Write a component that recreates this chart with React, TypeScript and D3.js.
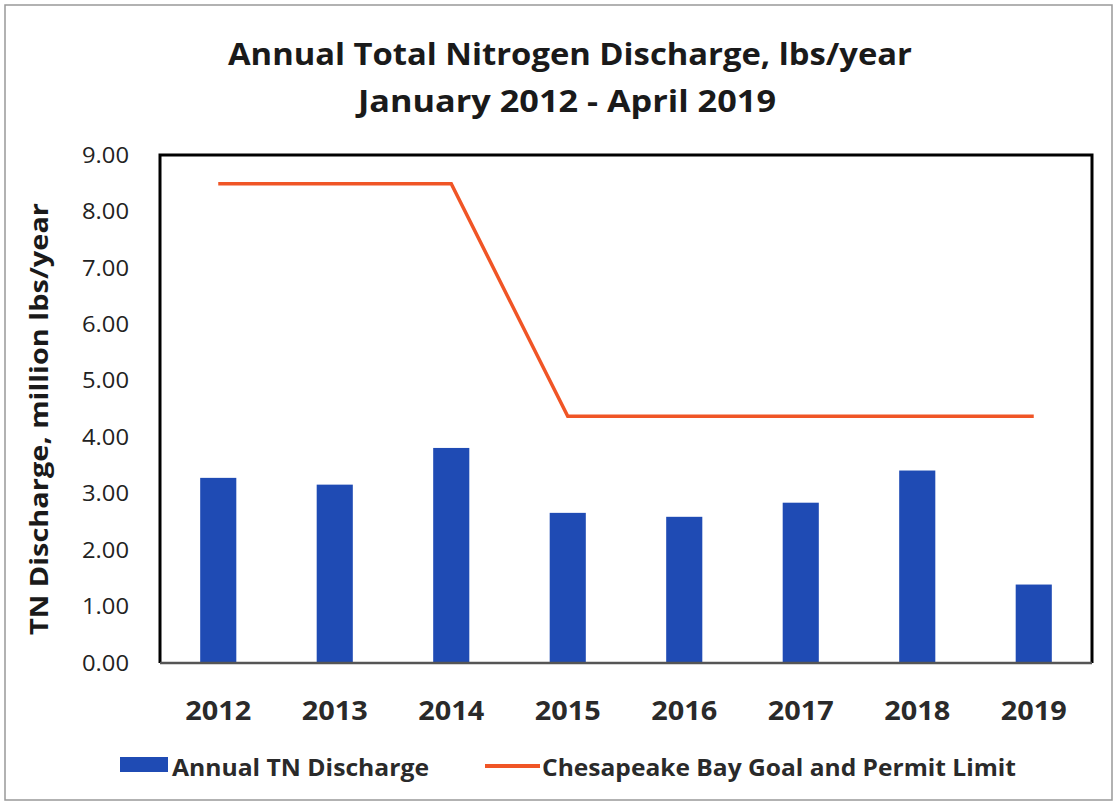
import * as d3 from "d3"

const years = ["2012", "2013", "2014", "2015", "2016", "2017", "2018", "2019"]
const discharge = [3.28, 3.16, 3.81, 2.66, 2.59, 2.84, 3.41, 1.39]
const permitLimit = [8.49, 8.49, 8.49, 4.37, 4.37, 4.37, 4.37, 4.37]
const yTicks = [0, 1, 2, 3, 4, 5, 6, 7, 8, 9]

const W = 1117
const H = 804
const plot = { left: 160, right: 1092, top: 155, bottom: 663 }
const FONT = "'Open Sans', 'Noto Sans', sans-serif"
const BAR = "#1f4bb4"
const LINE = "#f05526"

export default function App() {
    const x = d3.scaleBand<string>()
        .domain(years)
        .range([plot.left, plot.right])
        .paddingInner(0.69)
        .paddingOuter(0.345)
    const y = d3.scaleLinear().domain([0, 9]).range([plot.bottom, plot.top])

    const line = d3.line<number>()
        .x((_, i) => (x(years[i]) ?? 0) + x.bandwidth() / 2)
        .y(d => y(d))

    return (
        <svg
            width={W}
            height={H}
            style={{ position: "absolute", left: 0, top: 0, background: "#fff" }}
        >
            <rect x={5} y={5} width={W - 10} height={H - 9} fill="#fff" stroke="#999" strokeWidth={1.5} />

            <text x={570} y={65} textAnchor="middle" fontFamily={FONT} fontWeight={700} fontSize={31}
                fill="#1a1a1a" textLength={684} lengthAdjust="spacingAndGlyphs">
                Annual Total Nitrogen Discharge, lbs/year
            </text>
            <text x={567} y={112} textAnchor="middle" fontFamily={FONT} fontWeight={700} fontSize={31}
                fill="#1a1a1a" textLength={418} lengthAdjust="spacingAndGlyphs">
                January 2012 - April 2019
            </text>

            {/* y axis title */}
            <text transform={`translate(48,${(plot.top + plot.bottom) / 2 + 10}) rotate(-90)`}
                textAnchor="middle" fontFamily={FONT} fontWeight={700} fontSize={25} fill="#1a1a1a"
                textLength={432} lengthAdjust="spacingAndGlyphs">
                TN Discharge, million lbs/year
            </text>

            {yTicks.map(t => (
                <text key={t} x={129} y={y(t)} dy="0.35em" textAnchor="end" fontFamily={FONT}
                    fontSize={22} fill="#222" textLength={47} lengthAdjust="spacingAndGlyphs">
                    {t.toFixed(2)}
                </text>
            ))}

            {years.map((yr, i) => (
                <rect key={yr} x={x(yr)} y={y(discharge[i])} width={x.bandwidth()}
                    height={y(0) - y(discharge[i])} fill={BAR} />
            ))}

            <path d={line(permitLimit) ?? ""} fill="none" stroke={LINE} strokeWidth={3.5} />

            {/* plot frame */}
            <path d={`M${plot.left},${plot.bottom} V${plot.top} H${plot.right} V${plot.bottom}`}
                fill="none" stroke="#000" strokeWidth={3} />
            <line x1={plot.left} x2={plot.right} y1={y(0)} y2={y(0)} stroke="#555" strokeWidth={2.5} />

            {years.map(yr => (
                <text key={yr} x={(x(yr) ?? 0) + x.bandwidth() / 2} y={720} textAnchor="middle"
                    fontFamily={FONT} fontWeight={700} fontSize={27} fill="#2a2a2a"
                    textLength={66} lengthAdjust="spacingAndGlyphs">
                    {yr}
                </text>
            ))}

            {/* legend */}
            <rect x={120} y={757} width={48} height={15} fill={BAR} />
            <text x={172} y={776} fontFamily={FONT} fontWeight={700} fontSize={23} fill="#2a2a2a"
                textLength={257} lengthAdjust="spacingAndGlyphs">
                Annual TN Discharge
            </text>
            <line x1={485} x2={540} y1={766} y2={766} stroke={LINE} strokeWidth={4} />
            <text x={542} y={776} fontFamily={FONT} fontWeight={700} fontSize={23} fill="#2a2a2a"
                textLength={474} lengthAdjust="spacingAndGlyphs">
                Chesapeake Bay Goal and Permit Limit
            </text>
        </svg>
    )
}
